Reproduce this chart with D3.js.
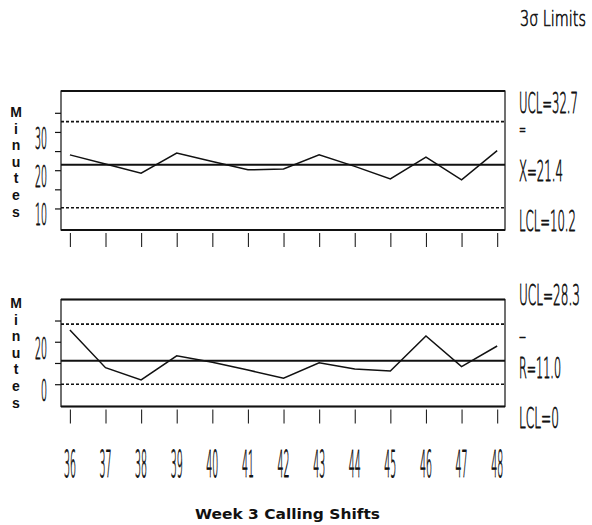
<!DOCTYPE html>
<html>
<head>
<meta charset="utf-8">
<script src="https://cdn.jsdelivr.net/npm/d3@7"></script>
<style>
  html, body { margin: 0; padding: 0; background: #fff; }
  svg { display: block; }
  .cond { font-family: "DejaVu Sans", sans-serif; font-weight: 200; fill: #111;
          stroke: #111; stroke-width: 0.6; vector-effect: non-scaling-stroke; }
</style>
</head>
<body>
<svg id="chart" width="592" height="525"></svg>
<script>
// ---- data ----
const shifts = [36, 37, 38, 39, 40, 41, 42, 43, 44, 45, 46, 47, 48];
const xbarValues = [24.0, 21.6, 19.2, 24.5, 22.3, 20.1, 20.3, 24.0, 21.0, 17.7, 23.4, 17.5, 25.1];
const rangeValues = [25.5, 7.8, 2.0, 13.4, 10.3, 6.7, 2.8, 10.1, 7.2, 6.2, 22.7, 8.3, 18.0];
const xbarLimits = [32.7, 21.4, 10.2];   // UCL, centre, LCL
const rangeLimits = [28.3, 11.0, 0];     // UCL, centre, LCL
const xbarTicks = [10, 15, 20, 25, 30, 35];
const xbarTickLabels = [10, 20, 30];
const rangeTicks = [0, 10, 20, 30];
const rangeTickLabels = [0, 20];
const xbarLimitLabels = ["UCL=32.7", "X=21.4", "LCL=10.2"];
const rangeLimitLabels = ["UCL=28.3", "R=11.0", "LCL=0"];
const yTitle = "Minutes";
const xTitle = "Week 3 Calling Shifts";
const limitsTitle = "3σ Limits";

// ---- layout ----
const svg = d3.select("#chart");
const left = 61, right = 505;
const x = d3.scaleLinear().domain([35.75, 48.22]).range([left, right]);

// condensed "plotter" text: real text, squeezed horizontally to a given width
function condText(sel, px, py, txt, size, width, anchor) {
  const t = sel.append("text").attr("class", "cond").attr("font-size", size).text(txt);
  const w = t.node().getComputedTextLength();
  const sx = width / w;
  const x0 = anchor === "middle" ? px - width / 2 : anchor === "end" ? px - width : px;
  t.attr("transform", `translate(${x0},${py}) scale(${sx},1)`);
  return t;
}

const panels = [
  { values: xbarValues, limits: xbarLimits, ticks: xbarTicks, tickLabels: xbarTickLabels,
    limitLabels: xbarLimitLabels, bar: "=", domain: [4.37, 40.7], top: 91, bottom: 230,
    labelW: [59, 44, 57], labelY: [113, 181, 231], barY: 135, barSize: 16, titleY: 112 },
  { values: rangeValues, limits: rangeLimits, ticks: rangeTicks, tickLabels: rangeTickLabels,
    limitLabels: rangeLimitLabels, bar: "–", domain: [-10.5, 39.9], top: 299.5, bottom: 406.5,
    labelW: [61, 42, 40], labelY: [305, 378, 428], barY: 342, barSize: 18, titleY: 303 }
];

panels.forEach(p => {
  const y = d3.scaleLinear().domain(p.domain).range([p.bottom, p.top]);
  const g = svg.append("g");

  // frame
  g.append("rect").attr("x", left).attr("y", p.top)
    .attr("width", right - left).attr("height", p.bottom - p.top)
    .attr("fill", "none").attr("stroke", "#111").attr("stroke-width", 1.2);
  [p.top, p.bottom].forEach(yy => g.append("line")
    .attr("x1", left).attr("x2", right).attr("y1", yy).attr("y2", yy)
    .attr("stroke", "#111").attr("stroke-width", 2));

  // y ticks via axis
  const ya = g.append("g").attr("transform", `translate(${left},0)`)
    .call(d3.axisLeft(y).tickValues(p.ticks).tickSize(6).tickFormat(""));
  ya.select(".domain").remove();
  ya.selectAll(".tick line").attr("stroke", "#111").attr("stroke-width", 1.2);

  // y tick labels
  p.tickLabels.forEach(d => condText(g, 47, y(d) + 17, String(d), 31, String(d).length * 6, "end"));

  // x ticks below frame
  const xa = g.append("g").attr("transform", `translate(0,${p.bottom + 3})`)
    .call(d3.axisBottom(x).tickValues(shifts).tickSize(14).tickFormat(""));
  xa.select(".domain").remove();
  xa.selectAll(".tick line").attr("stroke", "#222").attr("stroke-width", 1.1);

  // limit lines
  [0, 2].forEach(i => g.append("line")
    .attr("x1", left).attr("x2", right)
    .attr("y1", y(p.limits[i])).attr("y2", y(p.limits[i]))
    .attr("stroke", "#111").attr("stroke-width", 1.6).attr("stroke-dasharray", "3,2"));
  g.append("line").attr("x1", left).attr("x2", right)
    .attr("y1", y(p.limits[1])).attr("y2", y(p.limits[1]))
    .attr("stroke", "#111").attr("stroke-width", 2);

  // data line
  g.append("path").datum(shifts.map((s, i) => [s, p.values[i]]))
    .attr("fill", "none").attr("stroke", "#111").attr("stroke-width", 1.5)
    .attr("d", d3.line().x(d => x(d[0])).y(d => y(d[1])));

  // limit labels on the right
  p.limitLabels.forEach((t, i) => condText(g, 519, p.labelY[i], t, 29, p.labelW[i], "start"));
  condText(g, 519, p.barY, p.bar, p.barSize, 7, "start");

  // vertical "Minutes"
  g.selectAll(".ml").data(yTitle.split("")).join("text")
    .attr("x", 16).attr("y", (d, i) => p.titleY + i * 16.6)
    .attr("text-anchor", "middle").attr("dominant-baseline", "central")
    .attr("font-family", "'Liberation Sans', Arial, sans-serif")
    .attr("font-weight", "bold").attr("font-size", 14).attr("fill", "#111")
    .text(d => d);
});

// x tick labels
shifts.forEach(d => condText(svg, x(d), 477, String(d), 37, 12, "middle"));

// titles
condText(svg, 520, 26, limitsTitle, 22, 66, "start");

svg.append("text").attr("x", 287.5).attr("y", 519)
  .attr("text-anchor", "middle")
  .attr("font-family", "'DejaVu Sans', sans-serif").attr("font-weight", "bold")
  .attr("font-size", 14).attr("fill", "#111")
  .attr("textLength", 185).attr("lengthAdjust", "spacingAndGlyphs")
  .text(xTitle);
</script>
</body>
</html>
